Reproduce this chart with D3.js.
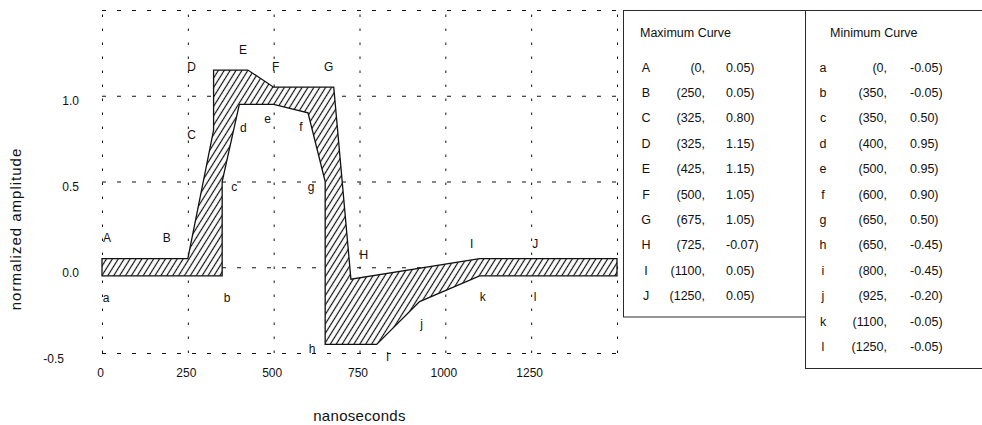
<!DOCTYPE html>
<html>
<head>
<meta charset="utf-8">
<script src="https://cdn.jsdelivr.net/npm/d3@7"></script>
<style>
  html, body { margin: 0; padding: 0; background: #fff; }
  svg { display: block; font-family: "Liberation Sans", Arial, Helvetica, sans-serif; }
</style>
</head>
<body>
<svg id="chart" width="982" height="425"></svg>
<script>
// Envelope data: upper (maximum) and lower (minimum) limit curves
const maxNames = ["A", "B", "C", "D", "E", "F", "G", "H", "I", "J"];
const maxX = [0, 250, 325, 325, 425, 500, 675, 725, 1100, 1250];
const maxY = [0.05, 0.05, 0.80, 1.15, 1.15, 1.05, 1.05, -0.07, 0.05, 0.05];

const minNames = ["a", "b", "c", "d", "e", "f", "g", "h", "i", "j", "k", "l"];
const minX = [0, 350, 350, 400, 500, 600, 650, 650, 800, 925, 1100, 1250];
const minY = [-0.05, -0.05, 0.50, 0.95, 0.95, 0.90, 0.50, -0.45, -0.45, -0.20, -0.05, -0.05];

// Axis extents, grid and tick labels
const xDomain = [0, 1500];
const yDomain = [-0.5, 1.5];
const xGrid = [0, 250, 500, 750, 1000, 1250, 1500];
const xTickLabels = [0, 250, 500, 750, 1000, 1250];
const yGrid = [-0.5, 0, 0.5, 1.0, 1.5];
const yTickLabels = [-0.5, 0, 0.5, 1.0];

// Pixel offsets of the point letters from their points
const maxLabelOffset = [[5, -21], [-21, -21], [-22, 5], [-22, -3], [-5, -20], [2, -20],
                        [-5, -20], [13, -25], [-8, -15], [4, -15]];
const minLabelOffset = [[4, 22], [5, 22], [12, 5], [4, 23], [-6, 14], [-7, 14],
                        [-14, 5], [-13, 4], [11, 12], [2, 22], [3, 21], [4, 21]];

const svg = d3.select("#chart");
const plotL = 102, plotR = 617, plotT = 10, plotB = 353;

const x = d3.scaleLinear().domain(xDomain).range([plotL, plotR]);
const y = d3.scaleLinear().domain(yDomain).range([plotB, plotT]);

const ink = "#111";

// Number formats using a plain hyphen for the minus sign
const loc = d3.formatLocale({ decimal: ".", thousands: ",", grouping: [3], currency: ["", ""], minus: "-" });
const fx = loc.format("d"), fy = loc.format(".2f"), fTick = loc.format(".1f");

// Hatch pattern for the envelope
const defs = svg.append("defs");
const hw = 5.0;
const pat = defs.append("pattern")
  .attr("id", "hatch")
  .attr("patternUnits", "userSpaceOnUse")
  .attr("width", hw).attr("height", 10)
  .attr("patternTransform", "rotate(32)");
pat.append("rect").attr("width", hw).attr("height", 10).attr("fill", "#fff");
pat.append("line")
  .attr("x1", hw / 2).attr("x2", hw / 2).attr("y1", 0).attr("y2", 10)
  .attr("stroke", ink).attr("stroke-width", 1.2);

// Vertical grid with x tick labels
const gx = svg.append("g")
  .attr("transform", `translate(0,${plotB})`)
  .call(d3.axisBottom(x)
    .tickValues(xGrid)
    .tickSize(-(plotB - plotT))
    .tickPadding(15)
    .tickFormat(d => xTickLabels.includes(d) ? fx(d) : ""));
gx.select(".domain").remove();
gx.selectAll(".tick line")
  .attr("stroke", ink).attr("stroke-width", 1)
  .attr("stroke-dasharray", "2.5,11.5");
gx.selectAll(".tick text")
  .attr("fill", ink).attr("font-size", 12)
  .attr("font-family", "Liberation Sans, Arial, sans-serif")
  .attr("dx", -2);

// Horizontal grid with y tick labels
const gy = svg.append("g")
  .attr("transform", `translate(${plotL},0)`)
  .call(d3.axisLeft(y)
    .tickValues(yGrid)
    .tickSize(-(plotR - plotL))
    .tickPadding(23)
    .tickFormat(d => yTickLabels.includes(d) ? fTick(d) : ""));
gy.select(".domain").remove();
gy.selectAll(".tick line")
  .attr("stroke", ink).attr("stroke-width", 1)
  .attr("stroke-dasharray", "4,11");
gy.selectAll(".tick text")
  .attr("fill", ink).attr("font-size", 12)
  .attr("font-family", "Liberation Sans, Arial, sans-serif")
  .attr("dy", "0.75em")
  .attr("x", d => d < 0 ? -38 : -23);

// Envelope polygon: maximum curve forward, minimum curve back, both held to the axis end
const maxPts = maxX.map((v, i) => [v, maxY[i]]);
const minPts = minX.map((v, i) => [v, minY[i]]);
const maxRun = maxPts.concat([[xDomain[1], maxY[maxY.length - 1]]]);
const minRun = minPts.concat([[xDomain[1], minY[minY.length - 1]]]);
const outline = maxRun.concat(minRun.slice().reverse());

const line = d3.line().x(d => x(d[0])).y(d => y(d[1]));
svg.append("path")
  .attr("d", line(outline) + "Z")
  .attr("fill", "url(#hatch)")
  .attr("stroke", ink)
  .attr("stroke-width", 1.3)
  .attr("stroke-linejoin", "miter");

// Point letters
const letters = svg.append("g")
  .attr("font-size", 12).attr("fill", ink).attr("text-anchor", "middle");
maxPts.forEach((p, i) => {
  letters.append("text")
    .attr("x", x(p[0]) + maxLabelOffset[i][0])
    .attr("y", y(p[1]) + maxLabelOffset[i][1] + 4.3)
    .text(maxNames[i]);
});
minPts.forEach((p, i) => {
  letters.append("text")
    .attr("x", x(p[0]) + minLabelOffset[i][0])
    .attr("y", y(p[1]) + minLabelOffset[i][1] + 4.3)
    .text(minNames[i]);
});

// Axis titles
svg.append("text")
  .attr("x", (plotL + plotR) / 2).attr("y", 421)
  .attr("text-anchor", "middle")
  .attr("font-size", 15).attr("letter-spacing", 0.3).attr("fill", ink)
  .text("nanoseconds");
svg.append("text")
  .attr("transform", "translate(21,229) rotate(-90)")
  .attr("text-anchor", "middle")
  .attr("font-size", 15).attr("letter-spacing", 1).attr("fill", ink)
  .text("normalized amplitude");

// Coordinate tables
function table(g, title, names, xs, ys, box, cols) {
  g.append("rect")
    .attr("x", box[0]).attr("y", box[1])
    .attr("width", box[2]).attr("height", box[3])
    .attr("fill", "#fff").attr("stroke", "#2a2a2a").attr("stroke-width", 1);
  g.append("text")
    .attr("x", cols.title).attr("y", 37)
    .attr("font-size", 12.5).attr("fill", ink)
    .text(title);
  const rowY = i => 71.5 + i * 25.4;
  names.forEach((n, i) => {
    g.append("text").attr("x", cols.name).attr("y", rowY(i))
      .attr("text-anchor", "middle").attr("font-size", 12.5).attr("fill", ink)
      .text(n);
    g.append("text").attr("x", cols.xv).attr("y", rowY(i))
      .attr("text-anchor", "end").attr("font-size", 12.5).attr("fill", ink)
      .text(`(${fx(xs[i])},`);
    g.append("text").attr("x", cols.yv).attr("y", rowY(i))
      .attr("text-anchor", "start").attr("font-size", 12.5).attr("fill", ink)
      .text(`${fy(ys[i])})`);
  });
}
table(svg.append("g"), "Minimum Curve", minNames, minX, minY,
  [805.5, 10.5, 190, 358], { title: 830, name: 823, xv: 887, yv: 910 });
table(svg.append("g"), "Maximum Curve", maxNames, maxX, maxY,
  [623.5, 10.5, 182, 306.5], { title: 640, name: 646, xv: 705, yv: 726 });
</script>
</body>
</html>
